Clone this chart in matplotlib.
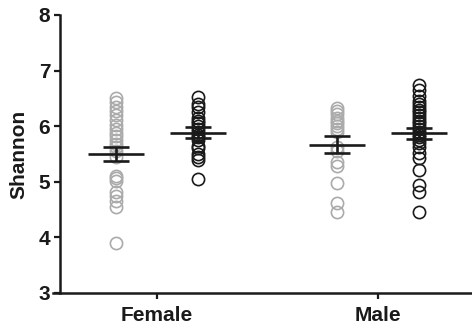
"""
Column scatter of Shannon diversity by sex, two groups per sex, mean +/- SEM.
"""

import numpy as np
import matplotlib.pyplot as plt

CATEGORIES = ["Female", "Male"]

female_gray = [6.50, 6.43, 6.35, 6.27, 6.20, 6.12, 6.03, 5.95, 5.88, 5.82,
               5.75, 5.68, 5.62, 5.55, 5.45, 5.10, 5.06, 5.02, 4.82, 4.75,
               4.66, 4.55, 3.90]
female_black = [6.52, 6.40, 6.35, 6.25, 6.15, 6.10, 6.05, 6.00, 5.95, 5.90,
                5.85, 5.80, 5.75, 5.65, 5.60, 5.50, 5.45, 5.40, 5.05]
male_gray = [6.32, 6.27, 6.22, 6.15, 6.10, 6.05, 6.00, 5.95, 5.90, 5.62,
             5.55, 5.35, 5.28, 4.98, 4.62, 4.45]
male_black = [6.75, 6.65, 6.55, 6.45, 6.40, 6.35, 6.30, 6.25, 6.20, 6.15,
              6.10, 6.05, 6.00, 5.95, 5.90, 5.85, 5.80, 5.75, 5.70, 5.62,
              5.52, 5.43, 5.22, 4.94, 4.82, 4.45]

# mean and SEM
group_means = [5.50, 5.88, 5.67, 5.87]
group_sems = [0.12, 0.10, 0.145, 0.10]

GRAY = "#ababab"
BLACK = "#1a1a1a"
FONT = ["Liberation Sans", "DejaVu Sans"]


def draw_group(ax, x, values, color, mean, sem):
    ax.plot(np.full(len(values), x), values, linestyle="none", marker="o",
            markersize=8.8, markerfacecolor="none", markeredgecolor=color,
            markeredgewidth=1.2, zorder=2)
    ax.hlines(mean, x - 0.125, x + 0.125, color=BLACK, linewidth=1.9, zorder=3)
    ax.hlines([mean - sem, mean + sem], x - 0.06, x + 0.06, color=BLACK,
              linewidth=1.9, zorder=3)
    ax.vlines(x, mean - sem, mean + sem, color=BLACK, linewidth=1.9, zorder=3)


def main() -> None:
    plt.rcParams["font.family"] = FONT
    plt.rcParams["font.weight"] = "bold"

    fig = plt.figure(figsize=(4.72, 3.30), dpi=100)
    ax = fig.add_axes([53 / 472, 37 / 330, 419 / 472, 278 / 330])

    offset = 0.186
    groups = [female_gray, female_black, male_gray, male_black]
    colors = [GRAY, BLACK, GRAY, BLACK]
    xs = [0 - offset, 0 + offset, 1 - offset, 1 + offset]
    for x, vals, col, m, s in zip(xs, groups, colors, group_means, group_sems):
        draw_group(ax, x, vals, col, m, s)

    ax.set_xlim(-0.4706, 1.4253)
    ax.set_ylim(3, 8)
    ax.set_xticks(range(len(CATEGORIES)))
    ax.set_xticklabels(CATEGORIES)
    ax.set_yticks(range(3, 9))

    for side in ("top", "right"):
        ax.spines[side].set_visible(False)
    ax.spines["left"].set_position(("data", -0.439))
    ax.spines["left"].set_linewidth(1.8)
    ax.spines["bottom"].set_linewidth(1.8)
    ax.spines["left"].set_color(BLACK)
    ax.spines["bottom"].set_color(BLACK)

    ax.tick_params(axis="y", length=4, width=1.6, pad=3, labelsize=15,
                   colors=BLACK)
    ax.tick_params(axis="x", length=4.5, width=1.6, pad=5, labelsize=15,
                   colors=BLACK)
    ax.set_ylabel("Shannon", fontsize=15, fontweight="bold", labelpad=7,
                  color=BLACK)

    fig.savefig("out.png", dpi=100)


if __name__ == "__main__":
    main()
